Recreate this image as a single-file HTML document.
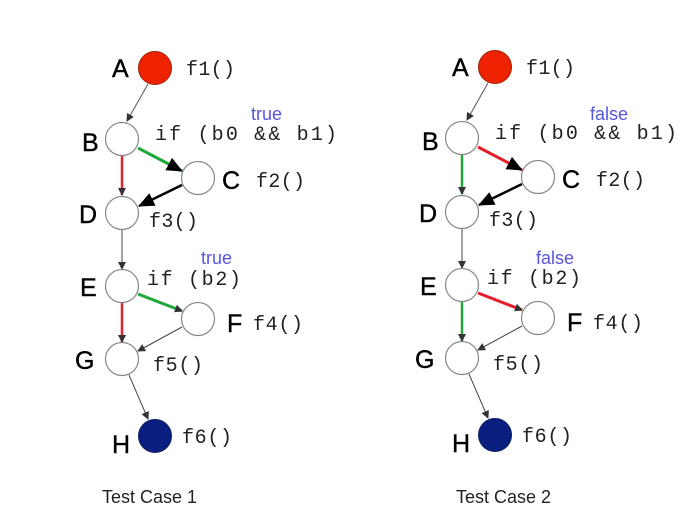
<!DOCTYPE html>
<html><head><meta charset="utf-8"><style>
html,body{margin:0;padding:0;background:#fff;}
svg{display:block;}
.L{font-family:"Liberation Sans",sans-serif;font-size:25px;fill:#000;stroke:#000;stroke-width:0.4;}
.c{font-family:"Liberation Mono",monospace;font-size:20px;fill:#222;}
.t{font-family:"Liberation Sans",sans-serif;font-size:18px;fill:#5555dd;}
.n{fill:#fff;stroke:#888;stroke-width:1.2;}
</style></head><body>
<svg width="697" height="529" viewBox="0 0 697 529" xmlns="http://www.w3.org/2000/svg">
<defs>
<marker id="s" markerWidth="8" markerHeight="8" refX="7" refY="4" orient="auto" markerUnits="userSpaceOnUse"><path d="M0,0 L8,4 L0,8 z" fill="#333"/></marker>
<marker id="b" markerWidth="16" markerHeight="14" refX="15" refY="7" orient="auto" markerUnits="userSpaceOnUse"><path d="M0,0 L16,7 L0,14 z" fill="#000"/></marker>
</defs>
<g id="g1">
<line x1="148" y1="84" x2="127" y2="121" stroke="#555" stroke-width="1" marker-end="url(#s)"/>
<line x1="122" y1="156" x2="122" y2="195" stroke="#e5202a" stroke-width="2.5" marker-end="url(#s)"/>
<line x1="138" y1="148" x2="182" y2="171" stroke="#1fa83a" stroke-width="3" marker-end="url(#b)"/>
<line x1="182" y1="185" x2="139" y2="206" stroke="#000" stroke-width="2.5" marker-end="url(#b)"/>
<line x1="122" y1="230" x2="122" y2="269" stroke="#444" stroke-width="1" marker-end="url(#s)"/>
<line x1="122" y1="303" x2="122" y2="342" stroke="#e5202a" stroke-width="2.5" marker-end="url(#s)"/>
<line x1="138" y1="294" x2="182" y2="311" stroke="#1fa83a" stroke-width="3" marker-end="url(#s)"/>
<line x1="182" y1="327" x2="138" y2="351" stroke="#444" stroke-width="1" marker-end="url(#s)"/>
<line x1="129" y1="375" x2="148" y2="419" stroke="#444" stroke-width="1" marker-end="url(#s)"/>
<circle cx="155" cy="68" r="16.5" fill="#ee2200" stroke="#992200"/>
<circle class="n" cx="122" cy="139" r="16.5"/>
<circle class="n" cx="198" cy="178" r="16.5"/>
<circle class="n" cx="122" cy="213" r="16.5"/>
<circle class="n" cx="122" cy="286" r="16.5"/>
<circle class="n" cx="198" cy="319" r="16.5"/>
<circle class="n" cx="122" cy="359" r="16.5"/>
<circle cx="155" cy="436" r="16.5" fill="#0a1e80" stroke="#0a1e60"/>
<text class="L" x="112" y="77">A</text>
<text class="c" x="186" y="75" textLength="49">f1()</text>
<text class="L" x="82" y="151">B</text>
<text class="c" x="155" y="140" textLength="182">if (b0 &amp;&amp; b1)</text>
<text class="L" x="222" y="189">C</text>
<text class="c" x="256" y="187" textLength="49">f2()</text>
<text class="L" x="79" y="223">D</text>
<text class="c" x="149" y="227" textLength="49">f3()</text>
<text class="L" x="80" y="296">E</text>
<text class="c" x="147" y="285" textLength="94">if (b2)</text>
<text class="L" x="227" y="332">F</text>
<text class="c" x="253" y="330" textLength="50">f4()</text>
<text class="L" x="75" y="369">G</text>
<text class="c" x="153" y="371" textLength="50">f5()</text>
<text class="L" x="112" y="453">H</text>
<text class="c" x="182" y="443" textLength="50">f6()</text>
</g>
<text class="t" x="251" y="120">true</text>
<text class="t" x="201" y="264">true</text>
<text x="102" y="503" font-family="Liberation Sans,sans-serif" font-size="18" fill="#222">Test Case 1</text>

<g transform="translate(340,-1)">
<line x1="148" y1="84" x2="127" y2="121" stroke="#555" stroke-width="1" marker-end="url(#s)"/>
<line x1="122" y1="156" x2="122" y2="195" stroke="#1fa83a" stroke-width="2.5" marker-end="url(#s)"/>
<line x1="138" y1="148" x2="182" y2="171" stroke="#e5202a" stroke-width="3" marker-end="url(#b)"/>
<line x1="182" y1="185" x2="139" y2="206" stroke="#000" stroke-width="2.5" marker-end="url(#b)"/>
<line x1="122" y1="230" x2="122" y2="269" stroke="#444" stroke-width="1" marker-end="url(#s)"/>
<line x1="122" y1="303" x2="122" y2="342" stroke="#1fa83a" stroke-width="2.5" marker-end="url(#s)"/>
<line x1="138" y1="294" x2="182" y2="311" stroke="#e5202a" stroke-width="3" marker-end="url(#s)"/>
<line x1="182" y1="327" x2="138" y2="351" stroke="#444" stroke-width="1" marker-end="url(#s)"/>
<line x1="129" y1="375" x2="148" y2="419" stroke="#444" stroke-width="1" marker-end="url(#s)"/>
<circle cx="155" cy="68" r="16.5" fill="#ee2200" stroke="#992200"/>
<circle class="n" cx="122" cy="139" r="16.5"/>
<circle class="n" cx="198" cy="178" r="16.5"/>
<circle class="n" cx="122" cy="213" r="16.5"/>
<circle class="n" cx="122" cy="286" r="16.5"/>
<circle class="n" cx="198" cy="319" r="16.5"/>
<circle class="n" cx="122" cy="359" r="16.5"/>
<circle cx="155" cy="436" r="16.5" fill="#0a1e80" stroke="#0a1e60"/>
<text class="L" x="112" y="77">A</text>
<text class="c" x="186" y="75" textLength="49">f1()</text>
<text class="L" x="82" y="151">B</text>
<text class="c" x="155" y="140" textLength="182">if (b0 &amp;&amp; b1)</text>
<text class="L" x="222" y="189">C</text>
<text class="c" x="256" y="187" textLength="49">f2()</text>
<text class="L" x="79" y="223">D</text>
<text class="c" x="149" y="227" textLength="49">f3()</text>
<text class="L" x="80" y="296">E</text>
<text class="c" x="147" y="285" textLength="94">if (b2)</text>
<text class="L" x="227" y="332">F</text>
<text class="c" x="253" y="330" textLength="50">f4()</text>
<text class="L" x="75" y="369">G</text>
<text class="c" x="153" y="371" textLength="50">f5()</text>
<text class="L" x="112" y="453">H</text>
<text class="c" x="182" y="443" textLength="50">f6()</text>
</g>
<text class="t" x="590" y="120">false</text>
<text class="t" x="536" y="264">false</text>
<text x="456" y="503" font-family="Liberation Sans,sans-serif" font-size="18" fill="#222">Test Case 2</text>
</svg>
</body></html>
